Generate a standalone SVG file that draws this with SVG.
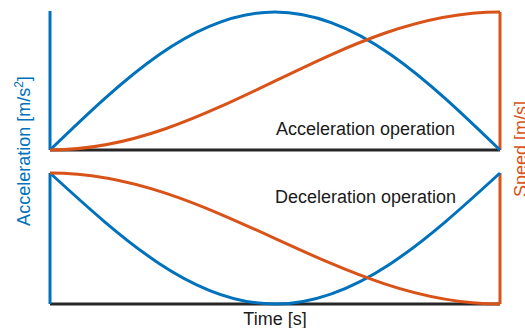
<svg xmlns="http://www.w3.org/2000/svg" width="525" height="328" viewBox="0 0 525 328">
<style>
.ax{stroke:#262626;stroke-width:3;fill:none}
.b{stroke:#0072BD;stroke-width:3;fill:none}
.o{stroke:#D95319;stroke-width:3;fill:none}
text{font-family:"Liberation Sans",Arial,sans-serif;font-size:18px}
.lbl{fill:#1a1a1a}
</style>
<rect width="525" height="328" fill="#fff"/>
<g id="axes">
<line class="ax" x1="50" y1="150" x2="500" y2="150"/>
<line class="ax" x1="50" y1="304" x2="500" y2="304"/>
<line class="b" x1="50" y1="11" x2="50" y2="150"/>
<line class="b" x1="50" y1="173" x2="50" y2="304"/>
<line class="o" x1="500" y1="12" x2="500" y2="150"/>
<line class="o" x1="500" y1="173" x2="500" y2="304"/>
</g>
<g id="curves">
<path class="b" d="M50,150 C123.4,79.3 193.4,12 275,12 C356.6,12 426.6,79.3 500,150"/>
<path class="o" d="M50,150 C131.6,150 201.6,116.3 275,81 C348.4,45.7 418.4,12 500,12"/>
<path class="b" d="M50,173 C123.4,240.1 193.4,304 275,304 C356.6,304 426.6,240.1 500,173"/>
<path class="o" d="M50,173 C131.6,173 201.6,205 275,238.5 C348.4,272 418.4,304 500,304"/>
</g>
<g id="labels">
<text class="lbl" x="276" y="134.5">Acceleration operation</text>
<text class="lbl" x="275" y="202.5">Deceleration operation</text>
<text class="lbl" x="275" y="325" text-anchor="middle">Time [s]</text>
<text x="0" y="0" fill="#0072BD" text-anchor="middle" transform="translate(29.5,151) rotate(-90)">Acceleration [m/s<tspan dy="-7" font-size="12">2</tspan><tspan dy="7">]</tspan></text>
<text x="0" y="0" fill="#D95319" text-anchor="middle" transform="translate(527,149) rotate(-90)">Speed [m/s]</text>
</g>
</svg>
